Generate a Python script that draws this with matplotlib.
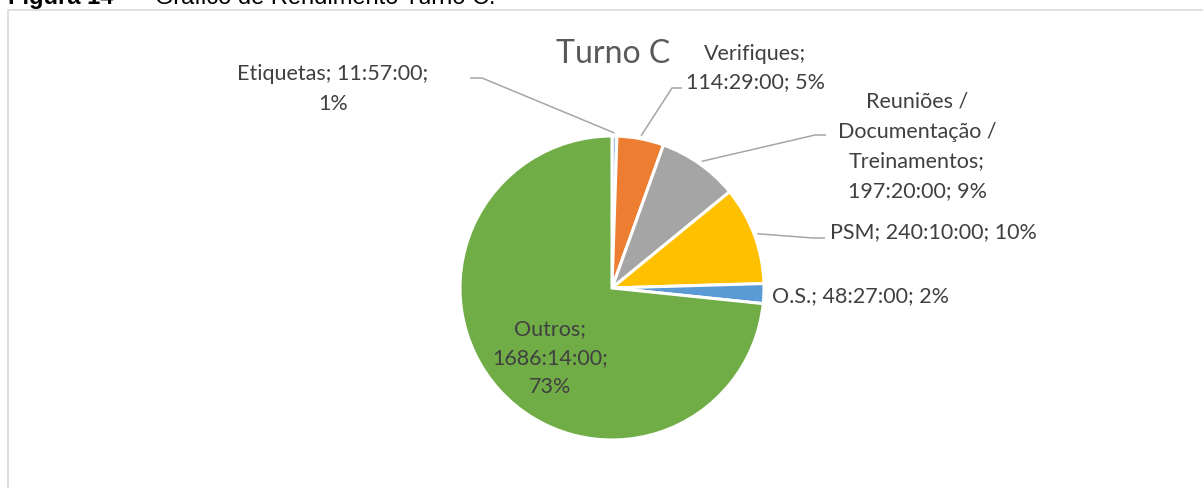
import matplotlib
matplotlib.use("Agg")
import matplotlib.pyplot as plt
from matplotlib.patches import Rectangle
import numpy as np

# ---------------- data ----------------
categories = ["Etiquetas", "Verifiques", "Reuniões / Documentação / Treinamentos",
              "PSM", "O.S.", "Outros"]
durations = ["11:57:00", "114:29:00", "197:20:00", "240:10:00", "48:27:00", "1686:14:00"]
percent_labels = ["1%", "5%", "9%", "10%", "2%", "73%"]
colors = ["#9DC3E6", "#ED7D31", "#A5A5A5", "#FFC000", "#5B9BD5", "#70AD47"]
title = "Turno C"


def to_hours(s):
    h, m, sec = (int(x) for x in s.split(":"))
    return h + m / 60 + sec / 3600


values = [to_hours(d) for d in durations]

# ---------------- figure ----------------
W, H = 1203, 488
fig = plt.figure(figsize=(W / 100, H / 100), dpi=100)
ax = fig.add_axes([0, 0, 1, 1])


def Y(y):  # pixel row (from top) -> data y
    return H - y


FONT = "Lato"
TXT = "#404040"
LINE = "#A6A6A6"
FS = 15.5

cx, cy, R = 612, Y(288), 152
wedges, _ = ax.pie(values, colors=colors, startangle=90, counterclock=False,
                   center=(cx, cy), radius=R,
                   wedgeprops=dict(edgecolor="white", linewidth=2.2))
ax.set_xlim(0, W)
ax.set_ylim(0, H)
ax.set_aspect("equal")
ax.axis("off")

# chart frame
ax.add_patch(Rectangle((8, -10), W + 20, Y(9.5) + 10, fill=False,
                       edgecolor="#D9D9D9", linewidth=1.2, zorder=0))

# caption (cut off at top, as in the source page)
cap_kw = dict(fontsize=17, color="black", family="Liberation Sans", va="baseline")
ax.text(8, Y(4), "Figura 14 -", ha="left", fontweight="bold", **cap_kw)
ax.text(155, Y(4), "Gráfico de Rendimento Turno C.", ha="left", **cap_kw)

# title
ax.text(613, Y(63), title, ha="center", va="baseline", fontsize=23,
        color="#595959", family=FONT)


def mid_point(w, k=1.02):
    a = np.deg2rad((w.theta1 + w.theta2) / 2)
    return cx + R * k * np.cos(a), cy + R * k * np.sin(a)


def leader(i, p0, p1):
    ex, ey = mid_point(wedges[i])
    ax.plot([p0[0], p1[0], ex], [Y(p0[1]), Y(p1[1]), ey], color=LINE,
            linewidth=1.1, solid_capstyle="butt", zorder=3)


def lines(xs, ys, texts, ha="center"):
    for y, t in zip(ys, texts):
        ax.text(xs, Y(y), t, ha=ha, va="baseline", fontsize=FS, color=TXT,
                family=FONT)


# Etiquetas
lines(333, [80, 110], [f"{categories[0]}; {durations[0]};", percent_labels[0]])
leader(0, (470, 78), (482, 78))

# Verifiques
lines(755, [60, 88], [f"{categories[1]};", f"{durations[1]}; {percent_labels[1]}"])
leader(1, (682, 88), (672, 88))

# Reuniões / Documentação / Treinamentos
lines(917, [107, 138, 167, 197],
      ["Reuniões /", "Documentação /", "Treinamentos;",
       f"{durations[2]}; {percent_labels[2]}"])
leader(2, (826, 135), (815, 135))

# PSM
lines(830, [238], [f"{categories[3]}; {durations[3]}; {percent_labels[3]}"], ha="left")
leader(3, (825, 238), (813, 238))

# O.S.
lines(772, [302], [f"{categories[4]}; {durations[4]}; {percent_labels[4]}"], ha="left")

# Outros (inside)
lines(550, [335, 364, 393], [f"{categories[5]};", f"{durations[5]};", percent_labels[5]])

fig.savefig("out.png", dpi=100, facecolor="white")
